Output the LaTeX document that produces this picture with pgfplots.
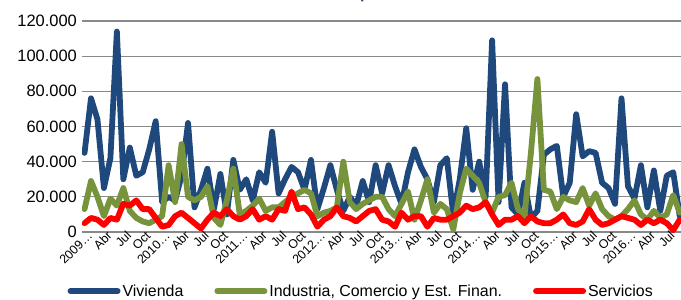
\documentclass[border=0pt]{standalone}
\usepackage{pgfplots}
\usepackage{pgfplotstable}
\pgfplotsset{compat=1.18}
\usepackage{fontspec}
\setmainfont{Liberation Sans}
\definecolor{viv}{HTML}{1F497D}
\definecolor{ind}{HTML}{77933C}
\definecolor{ser}{HTML}{FF0000}
\definecolor{grd}{HTML}{898989}
\pgfplotstableread{
i v g s
0 45 13 5
1 76 29 8
2 64 20 7
3 25 9 4
4 42 19 8
5 114 15 7
6 30 25 16
7 48 12 15
8 32 8 18
9 34 6 13
10 47 5 13
11 63 7 8
12 17 9 3
13 20 38 4
14 18 17 9
15 32 50 11
16 62 20 8
17 14 18 5
18 24 20 2
19 36 26 7
20 13 8 11
21 33 4 9
22 10 18 13
23 41 36 9
24 24 10 7
25 30 12 9
26 18 15 13
27 34 19 7
28 28 12 9
29 57 14 7
30 22 14 13
31 30 17 12
32 37 20 23
33 34 22 13
34 24 24 14
35 41 22 10
36 13 9 3
37 25 11 7
38 38 12 9
39 24 14 14
40 12 40 9
41 20 17 8
42 15 13 6
43 29 16 9
44 17 18 12
45 38 20 13
46 22 20 7
47 38 13 6
48 26 9 3
49 16 16 11
50 34 23 7
51 47 7 9
52 37 18 9
53 30 30 3
54 17 11 8
55 38 16 7
56 42 13 7
57 10 1.5 9
58 30 22 11
59 59 36 15
60 24 32 13
61 40 28 14
62 20 17 17
63 109 11 10
64 17 20 4
65 84 21 7
66 14 28 7
67 10 13 9
68 28 9 5
69 8 45 9
70 12 87 6
71 44 24 5
72 47 23 5
73 49 13 7
74 20 20 10
75 28 18 5
76 67 17 4
77 43 25 6
78 46 15 13
79 45 22 7
80 28 13 4
81 25 9 5
82 16 7 7
83 76 9 9
84 26 13 8
85 19 18 7
86 38 10 4
87 14 7 7
88 35 12 5
89 12 8 7
90 32 10 5
91 34 21 1
92 9 11 7
}\datatable
\begin{document}
\begin{tikzpicture}[x=1bp,y=1bp]
\useasboundingbox (0,0) rectangle (681,299);
\node[font=\bfseries\fontsize{16}{19}\selectfont, text=viv, anchor=base] at (370,300.5) {Crédito por Sector};
\begin{axis}[
  at={(82bp,67bp)}, anchor=south west,
  width=599bp, height=211bp, scale only axis,
  xmin=-0.39, xmax=92.2, ymin=0, ymax=120,
  axis x line=bottom, axis y line=left,
  axis line style={-},
  x axis line style={draw=grd, line width=1.3bp},
  y axis line style={draw=none},
  ymajorgrids, grid style={draw=grd, line width=1.3bp},
  major tick length=0pt, tick style={draw=none},
  ytick={0,20,40,60,80,100,120},
  yticklabels={0,20.000,40.000,60.000,80.000,100.000,120.000},
  yticklabel style={font=\fontsize{16.5}{19}\selectfont, inner sep=1bp, xshift=-4bp},
  xtick={0,3,...,90},
  xticklabels={2009…,Abr,Jul,Oct,2010…,Abr,Jul,Oct,2011…,Abr,Jul,Oct,2012…,Abr,Jul,Oct,2013…,Abr,Jul,Oct,2014…,Abr,Jul,Oct,2015…,Abr,Jul,Oct,2016…,Abr,Jul},
  xticklabel style={font=\fontsize{12.5}{14}\selectfont, rotate=45, anchor=east, inner sep=1bp, xshift=4bp, yshift=-5bp},
  legend style={at={(0.466,-0.28)}, anchor=center, draw=none, fill=none,
    font=\fontsize{16}{19}\selectfont,
    /tikz/every even column/.append style={column sep=29bp}},
  legend columns=3,
  legend image code/.code={\draw[#1, line width=6bp, line cap=round] (0bp,0bp) -- (47bp,0bp);},
  every axis plot/.append style={line width=5.8bp, line join=round, line cap=round},
]
\addplot[viv] table[x=i,y=v] {\datatable};
\addplot[ind] table[x=i,y=g] {\datatable};
\addplot[ser] table[x=i,y=s] {\datatable};
\legend{Vivienda, {Industria, Comercio y Est. Finan.}, Servicios}
\end{axis}
\end{tikzpicture}
\end{document}
